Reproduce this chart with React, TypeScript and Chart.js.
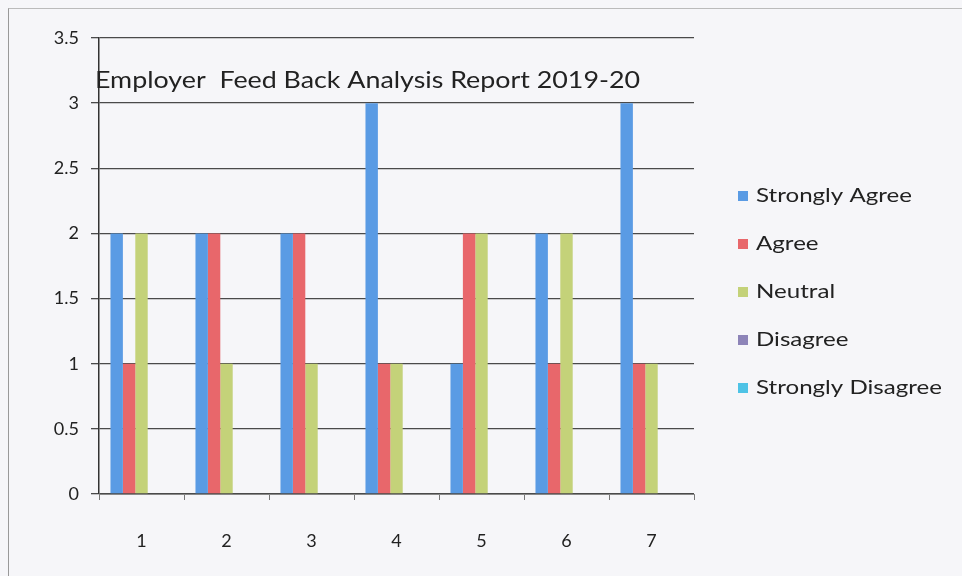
import React, { useEffect, useRef } from "react";
import { Chart, registerables } from "chart.js";

Chart.register(...registerables);

const categories = ["1", "2", "3", "4", "5", "6", "7"];
const seriesNames = ["Strongly Agree", "Agree", "Neutral", "Disagree", "Strongly Disagree"];
const stronglyAgree = [2, 2, 2, 3, 1, 2, 3];
const agree = [1, 2, 2, 1, 2, 1, 1];
const neutral = [2, 1, 1, 1, 2, 2, 1];
const disagree = [0, 0, 0, 0, 0, 0, 0];
const stronglyDisagree = [0, 0, 0, 0, 0, 0, 0];
const yTicks = [0, 0.5, 1, 1.5, 2, 2.5, 3, 3.5];
const chartTitle = "Employer  Feed Back Analysis Report 2019-20";
const colors = ["#5a9be4", "#e8676b", "#c4d279", "#8d84b8", "#4ec3e6"];

const FONT = "Lato";

const overlayPlugin = {
  id: "overlay",
  afterDraw(chart: any) {
    const ctx = chart.ctx;
    const area = chart.chartArea;
    ctx.save();
    // title inside plot
    ctx.font = `23px "${FONT}"`;
    ctx.fillStyle = "#222";
    ctx.textBaseline = "alphabetic";
    ctx.textAlign = "left";
    const tw = ctx.measureText(chartTitle).width;
    const target = 545;
    ctx.translate(area.left - 4, 88);
    ctx.scale(target / tw, 1);
    ctx.fillText(chartTitle, 0, 0);
    ctx.restore();

    // legend
    ctx.save();
    ctx.font = `20px "${FONT}"`;
    ctx.textBaseline = "middle";
    ctx.textAlign = "left";
    const longest = chart.data.datasets.reduce(
      (m: number, ds: any) => Math.max(m, ctx.measureText(ds.label).width),
      0
    );
    const sx = 186 / longest;
    chart.data.datasets.forEach((ds: any, i: number) => {
      const cy = 196 + i * 48;
      ctx.fillStyle = ds.backgroundColor;
      ctx.fillRect(738, cy - 5, 10, 10);
      ctx.save();
      ctx.translate(756, cy);
      ctx.scale(sx, 1);
      ctx.fillStyle = "#222";
      ctx.fillText(ds.label, 0, 0);
      ctx.restore();
    });
    ctx.restore();
  },
};

export default function App() {
  const ref = useRef<HTMLCanvasElement | null>(null);
  useEffect(() => {
    if (!ref.current) return;
    const values = [stronglyAgree, agree, neutral, disagree, stronglyDisagree];
    const chart = new Chart(ref.current, {
      type: "bar",
      data: {
        labels: categories,
        datasets: seriesNames.map((name, i) => ({
          label: name,
          data: values[i],
          backgroundColor: colors[i],
          borderWidth: 0,
          barPercentage: 1,
          categoryPercentage: 0.73,
        })),
      },
      options: {
        animation: false,
        responsive: false,
        maintainAspectRatio: false,
        layout: { padding: { left: 0, right: 268, top: 38, bottom: 0 } },
        plugins: {
          legend: { display: false },
          title: { display: false },
          tooltip: { enabled: false },
        },
        scales: {
          x: {
            offset: true,
            grid: {
              offset: true,
              drawOnChartArea: false,
              drawTicks: true,
              tickLength: 6,
              color: "#777",
            },
            border: { display: true, color: "#888", width: 1 },
            ticks: {
              padding: 30,
              color: "#222",
              font: { family: FONT, size: 18 },
            },
            afterFit: (s: any) => {
              s.height = 576 - 494;
            },
          },
          y: {
            min: 0,
            max: 3.5,
            afterBuildTicks: (s: any) => {
              s.ticks = yTicks.map((v) => ({ value: v }));
            },
            grid: {
              color: "#4a4a4a",
              lineWidth: 1.3,
              tickLength: 8,
              drawTicks: true,
            },
            border: { display: true, color: "#333", width: 1.5 },
            ticks: {
              padding: 12,
              color: "#222",
              font: { family: FONT, size: 18 },
              callback: (v: any) => String(v),
            },
            afterFit: (s: any) => {
              s.width = 99;
            },
          },
        },
      },
      plugins: [overlayPlugin],
    });
    return () => chart.destroy();
  }, []);
  return (
    <div
      style={{
        position: "fixed",
        left: 0,
        top: 0,
        width: 962,
        height: 576,
        background: "#f6f6f9",
      }}
    >
      <div
        style={{
          position: "absolute",
          left: 8,
          top: 8,
          right: 0,
          bottom: 0,
          borderLeft: "1.5px solid #999",
          borderTop: "1.5px solid #bbb",
        }}
      />
      <canvas ref={ref} width={962} height={576} style={{ position: "absolute", left: 0, top: 0 }} />
    </div>
  );
}
